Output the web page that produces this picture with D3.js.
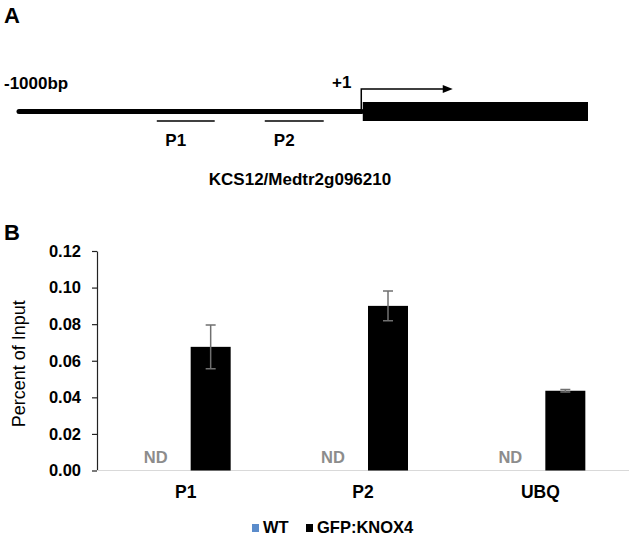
<!DOCTYPE html>
<html>
<head>
<meta charset="utf-8">
<script src="https://cdn.jsdelivr.net/npm/d3@7"></script>
<style>
  body { margin: 0; background: #fff; }
  text { font-family: Arial, "Liberation Sans", sans-serif; }
</style>
</head>
<body>
<svg id="chart"></svg>
<script>
// panel A: promoter schematic (bp relative to TSS)
var promoterStart = -1000;
var geneEnd = 660;
var primers = [
  { name: 'P1', start: -598, end: -429 },
  { name: 'P2', start: -283, end: -111 }
];
var geneName = 'KCS12/Medtr2g096210';

// panel B: ChIP-qPCR
var categories = ['P1', 'P2', 'UBQ'];
var series = ['WT', 'GFP:KNOX4'];
var wtValues = [null, null, null];           // not detected
var knoxValues = [0.0676, 0.0900, 0.0436];
var knoxErrors = [0.0120, 0.0082, 0.0007];
var yTicks = [0, 0.02, 0.04, 0.06, 0.08, 0.10, 0.12];
var colors = { 'WT': '#5b8ccb', 'GFP:KNOX4': '#000000' };

document.addEventListener('DOMContentLoaded', () => {
  var svg = d3.select('#chart')
    .attr('width', 633)
    .attr('height', 537);

  svg.append('rect').attr('width', 633).attr('height', 537).attr('fill', '#fff');

  // ---- panel A ----
  var bp = d3.scaleLinear()
    .domain([promoterStart, geneEnd])
    .range([19, 588]);

  var a = svg.append('g');

  a.append('text').attr('x', 4).attr('y', 23)
    .attr('font-size', 22).attr('font-weight', 'bold').text('A');

  a.append('line')
    .attr('x1', bp(promoterStart)).attr('x2', bp(0))
    .attr('y1', 111.5).attr('y2', 111.5)
    .attr('stroke', '#000').attr('stroke-width', 5)
    .attr('stroke-linecap', 'round');

  a.append('rect')
    .attr('x', bp(0) + 1).attr('y', 102)
    .attr('width', bp(geneEnd) - bp(0) - 1).attr('height', 19)
    .attr('fill', '#000');

  // TSS arrow
  a.append('path')
    .attr('d', `M${bp(0) - 0.5},111 V89 H${bp(0) + 82}`)
    .attr('fill', 'none').attr('stroke', '#000').attr('stroke-width', 1.5);
  a.append('path')
    .attr('d', `M${bp(0) + 81},85 L${bp(0) + 91},89 L${bp(0) + 81},93 Z`)
    .attr('fill', '#000');

  a.append('text').attr('x', 4).attr('y', 89)
    .attr('font-size', 17).attr('font-weight', 'bold').text('-1000bp');
  a.append('text').attr('x', 332).attr('y', 88)
    .attr('font-size', 17).attr('font-weight', 'bold').text('+1');

  var pr = a.selectAll('.primer').data(primers).enter().append('g');
  pr.append('line')
    .attr('x1', d => bp(d.start)).attr('x2', d => bp(d.end))
    .attr('y1', 121).attr('y2', 121)
    .attr('stroke', '#000').attr('stroke-width', 1.5);
  pr.append('text')
    .attr('x', d => (bp(d.start) + bp(d.end)) / 2 - 10)
    .attr('y', 146)
    .attr('text-anchor', 'middle')
    .attr('font-size', 17).attr('font-weight', 'bold')
    .text(d => d.name);

  a.append('text').attr('x', 300).attr('y', 185)
    .attr('text-anchor', 'middle')
    .attr('font-size', 17).attr('font-weight', 'bold').text(geneName);

  // ---- panel B ----
  svg.append('text').attr('x', 4).attr('y', 240)
    .attr('font-size', 22).attr('font-weight', 'bold').text('B');

  var x0 = d3.scaleBand()
    .domain(categories)
    .range([97, 629]);

  var x1 = d3.scaleBand()
    .domain(series)
    .range([-50, 50])
    .paddingInner(0.2)
    .paddingOuter(0.1);

  var y = d3.scaleLinear()
    .domain([0, 0.12])
    .range([470.5, 251]);

  var yAxis = d3.axisLeft(y)
    .tickValues(yTicks)
    .tickFormat(d3.format('.2f'))
    .tickSize(5)
    .tickSizeOuter(0)
    .tickPadding(11);

  var ya = svg.append('g')
    .attr('transform', 'translate(97,0)')
    .call(yAxis);
  ya.select('.domain').attr('stroke', '#222').attr('stroke-width', 1.2);
  ya.selectAll('.tick line').attr('stroke', '#222').attr('stroke-width', 1.2);
  ya.selectAll('.tick text')
    .attr('font-size', 16.5).attr('font-weight', 'bold')
    .attr('font-family', 'Arial, "Liberation Sans", sans-serif')
    .attr('fill', '#000');

  svg.append('line')
    .attr('x1', 97).attr('x2', 629)
    .attr('y1', y(0)).attr('y2', y(0))
    .attr('stroke', '#d9d9d9').attr('stroke-width', 1.2);

  svg.append('text')
    .attr('transform', `translate(25,${(y(0) + y(0.12)) / 2 + 3}) rotate(-90)`)
    .attr('text-anchor', 'middle')
    .attr('font-size', 18)
    .text('Percent of Input');

  var rows = categories.map((c, i) => ({
    cat: c, wt: wtValues[i], knox: knoxValues[i], err: knoxErrors[i]
  }));

  var grp = svg.selectAll('.grp').data(rows).enter().append('g')
    .attr('transform', d => `translate(${x0(d.cat) + x0.bandwidth() / 2},0)`);

  grp.append('rect')
    .attr('x', x1('GFP:KNOX4'))
    .attr('y', d => y(d.knox))
    .attr('width', x1.bandwidth())
    .attr('height', d => y(0) - y(d.knox))
    .attr('fill', colors['GFP:KNOX4']);

  var cx = x1('GFP:KNOX4') + x1.bandwidth() / 2;
  grp.append('path')
    .attr('d', d => {
      var t = y(d.knox + d.err), b = y(d.knox - d.err);
      return `M${cx},${t} V${b} M${cx - 5},${t} H${cx + 5} M${cx - 5},${b} H${cx + 5}`;
    })
    .attr('fill', 'none').attr('stroke', '#707070').attr('stroke-width', 1.5);

  grp.filter(d => d.wt == null).append('text')
    .attr('x', x1('WT') + x1.bandwidth() / 2 - 5)
    .attr('y', y(0) - 8)
    .attr('text-anchor', 'middle')
    .attr('font-size', 16.5).attr('font-weight', 'bold')
    .attr('fill', '#8c8c8c')
    .text('ND');

  grp.append('text')
    .attr('y', 498)
    .attr('text-anchor', 'middle')
    .attr('font-size', 17.5).attr('font-weight', 'bold')
    .text(d => d.cat);

  // legend
  var legendX = { 'WT': 252, 'GFP:KNOX4': 306 };
  var lg = svg.selectAll('.lg').data(series).enter().append('g')
    .attr('transform', d => `translate(${legendX[d]},524)`);
  lg.append('rect').attr('width', 7).attr('height', 8)
    .attr('fill', d => colors[d]);
  lg.append('text').attr('x', 11).attr('y', 9)
    .attr('font-size', 16.5).attr('font-weight', 'bold')
    .text(d => d);
});
</script>
</body>
</html>
